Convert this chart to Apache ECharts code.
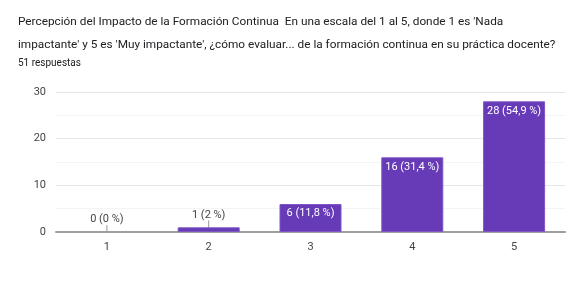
<!DOCTYPE html>
<html>
<head>
<meta charset="utf-8">
<script src="https://cdn.jsdelivr.net/npm/echarts@6/dist/echarts.min.js"></script>
<style>
	html, body { margin: 0; padding: 0; background: #fff; }
	#chart { width: 567px; height: 290px; }
</style>
</head>
<body>
<div id="chart"></div>
<script>
var titleText = 'Percepción del Impacto de la Formación Continua  En una escala del 1 al 5, donde 1 es \'Nada\nimpactante\' y 5 es \'Muy impactante\', ¿cómo evaluar... de la formación continua en su práctica docente?';
var subText = '51 respuestas';
var categories = ['1', '2', '3', '4', '5'];
var counts = [0, 1, 6, 16, 28];
var percents = ['0', '2', '11,8', '31,4', '54,9'];

// small values get the label above the bar with a leader line
var data = counts.map(function(v, i){
	var item = { value: v };
	if(v < 3){
		item.label = { position: 'top', color: '#444', distance: 4 };
		item.labelLine = { show: true, lineStyle: { color: '#999', width: 1 } };
	}
	if(v == 0)
		item.itemStyle = { borderWidth: 0 };
	return item;
});

var chart = echarts.init(document.getElementById('chart'));
chart.setOption({
	animation: false,
	textStyle: { fontFamily: 'Roboto' },
	title: [
		{
			text: titleText,
			left: 13,
			top: 6,
			textStyle: { fontSize: 11.8, fontWeight: 'normal', color: '#202124', lineHeight: 23, fontFamily: 'Roboto' }
		},
		{
			text: subText,
			left: 13,
			top: 53,
			textStyle: { fontSize: 10, fontWeight: 'normal', color: '#202124', fontFamily: 'Roboto' }
		}
	],
	grid: { left: 56, right: 2, top: 92, bottom: 58 },
	xAxis: {
		type: 'category',
		data: categories,
		axisTick: { show: false },
		axisLine: { lineStyle: { color: '#9e9e9e', width: 2 } },
		axisLabel: { color: '#444', fontSize: 11, margin: 10 }
	},
	yAxis: {
		type: 'value',
		min: 0,
		max: 30,
		interval: 10,
		axisLabel: { color: '#444', fontSize: 11, margin: 10 },
		splitLine: { lineStyle: { color: '#e6e6e6' } },
		minorTick: { show: false, splitNumber: 2 },
		minorSplitLine: { show: true, lineStyle: { color: '#f4f4f4' } }
	},
	series: [{
		type: 'bar',
		data: data,
		barWidth: 62,
		itemStyle: { color: '#673ab7', borderColor: '#7e57c2', borderWidth: 1 },
		label: {
			show: true,
			position: 'insideTop',
			distance: 4,
			color: '#fff',
			fontSize: 11,
			formatter: function(p){
				return p.value + ' (' + percents[p.dataIndex] + ' %)';
			}
		},
		labelLayout: function(params){
			if(counts[params.dataIndex] < 3)
				return { dy: -3 };
		}
	}]
});
</script>
</body>
</html>
